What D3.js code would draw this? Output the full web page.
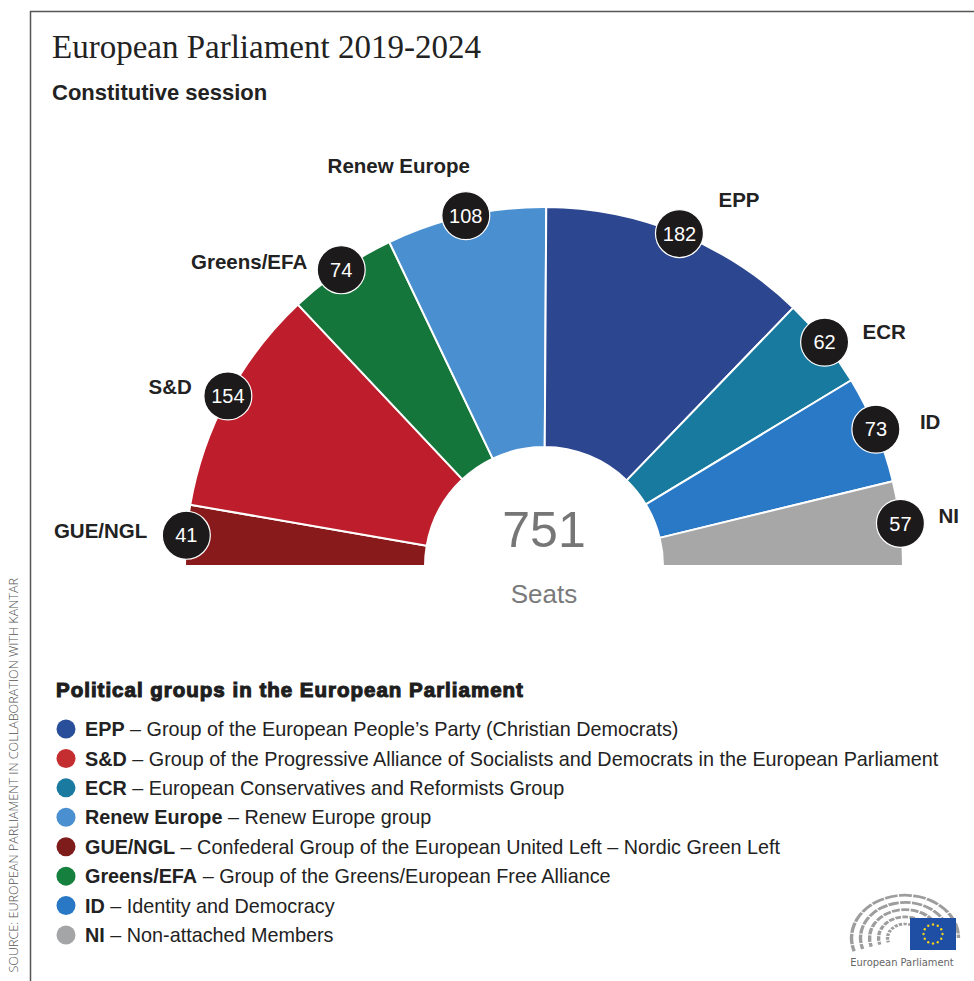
<!DOCTYPE html>
<html>
<head>
<meta charset="utf-8">
<script src="https://cdn.jsdelivr.net/npm/d3@7"></script>
<style>
  html, body { margin: 0; padding: 0; background: #fff; }
  svg { display: block; }
</style>
</head>
<body>
<svg id="chart" width="974" height="981"></svg>
<script>
// ---------- DATA ----------
const groups = ["GUE/NGL", "S&D", "Greens/EFA", "Renew Europe", "EPP", "ECR", "ID", "NI"];
const seats = [41, 154, 74, 108, 182, 62, 73, 57];
const arcColors = ["#891a1c", "#be1e2b", "#14763a", "#4a8fd0", "#2c4790", "#177a9e", "#2a79c6", "#a7a7a7"];
const totalSeats = 751;

const legendAbbr = ["EPP", "S&D", "ECR", "Renew Europe", "GUE/NGL", "Greens/EFA", "ID", "NI"];
const legendDesc = [
  "Group of the European People\u2019s Party (Christian Democrats)",
  "Group of the Progressive Alliance of Socialists and Democrats in the European Parliament",
  "European Conservatives and Reformists Group",
  "Renew Europe group",
  "Confederal Group of the European United Left \u2013 Nordic Green Left",
  "Group of the Greens/European Free Alliance",
  "Identity and Democracy",
  "Non-attached Members"
];
const legendColors = ["#2a4f9a", "#c52e30", "#1a7aa0", "#4a90d0", "#7e1c1c", "#16803e", "#2878c6", "#a3a5a7"];

// ---------- LAYOUT ----------
const svg = d3.select("#chart");
const cx = 544, cy = 566, R = 359, r0 = 119;
// label offsets relative to the seat-count bubble
const labelDx = [-39, -36, -34, -67, 39, 38, 44, 38];
const labelDy = [-5, -9, -8, -50, -34, -10, -8, -8];
const labelAnchor = ["end", "end", "end", "middle", "start", "start", "start", "start"];

// frame
svg.append("path")
  .attr("d", "M30.5,981 L30.5,11.5 L974,11.5")
  .attr("fill", "none").attr("stroke", "#555").attr("stroke-width", 1.5);

// source text (vertical)
svg.append("text")
  .attr("transform", "translate(18,578) rotate(-90)")
  .attr("text-anchor", "end")
  .attr("font-family", "'Open Sans', sans-serif")
  .attr("font-weight", 300)
  .attr("font-size", 12.6)
  .attr("fill", "#555")
  .text("SOURCE: EUROPEAN PARLIAMENT IN COLLABORATION WITH KANTAR");

// titles
svg.append("text")
  .attr("x", 52).attr("y", 58)
  .attr("font-family", "'Liberation Serif', 'DejaVu Serif', serif")
  .attr("font-size", 33)
  .attr("fill", "#222")
  .text("European Parliament 2019-2024");

svg.append("text")
  .attr("x", 52).attr("y", 100)
  .attr("font-family", "'Liberation Sans', Arial, sans-serif")
  .attr("font-weight", "bold")
  .attr("font-size", 22)
  .attr("fill", "#222")
  .text("Constitutive session");

// ---------- HEMICYCLE ----------
const data = groups.map((g, i) => ({ group: g, seats: seats[i], color: arcColors[i], i }));
const pie = d3.pie().value(d => d.seats).sort(null)
  .startAngle(-Math.PI / 2).endAngle(Math.PI / 2);
const arcs = pie(data);
const arcGen = d3.arc().innerRadius(r0).outerRadius(R);

const g = svg.append("g").attr("transform", `translate(${cx},${cy})`);
g.selectAll("path.seg").data(arcs).join("path")
  .attr("class", "seg")
  .attr("d", arcGen)
  .attr("fill", d => d.data.color)
  .attr("stroke", "#fff")
  .attr("stroke-width", 2)
  .attr("stroke-linejoin", "round");

// center text
g.append("text")
  .attr("x", 0).attr("y", -19)
  .attr("text-anchor", "middle")
  .attr("font-family", "'Liberation Sans', Arial, sans-serif")
  .attr("font-size", 50)
  .attr("fill", "#767676")
  .text(totalSeats);
g.append("text")
  .attr("x", 0).attr("y", 37)
  .attr("text-anchor", "middle")
  .attr("font-family", "'Liberation Sans', Arial, sans-serif")
  .attr("font-size", 26)
  .attr("fill", "#7a7a7a")
  .text("Seats");

// bubbles
const bub = g.selectAll("g.bub").data(arcs).join("g")
  .attr("class", "bub")
  .attr("transform", d => {
    const a = (d.startAngle + d.endAngle) / 2;
    return `translate(${R * Math.sin(a)},${-R * Math.cos(a)})`;
  });
bub.append("circle").attr("r", 24).attr("fill", "#1d1a1b")
  .attr("stroke", "#fff").attr("stroke-width", 1.2);
bub.append("text")
  .attr("text-anchor", "middle").attr("dy", "0.36em")
  .attr("font-family", "'Liberation Sans', Arial, sans-serif")
  .attr("font-size", 20).attr("fill", "#fff")
  .text(d => d.data.seats);
bub.append("text")
  .attr("x", d => labelDx[d.data.i]).attr("y", d => labelDy[d.data.i])
  .attr("dy", "0.36em")
  .attr("text-anchor", d => labelAnchor[d.data.i])
  .attr("font-family", "'Liberation Sans', Arial, sans-serif")
  .attr("font-weight", "bold")
  .attr("font-size", 20.5).attr("fill", "#222")
  .text(d => d.data.group);

// ---------- LEGEND ----------
svg.append("text")
  .attr("x", 56).attr("y", 697)
  .attr("font-family", "'Liberation Sans', Arial, sans-serif")
  .attr("font-weight", "bold")
  .attr("font-size", 20.5)
  .attr("fill", "#1e1e1e")
  .attr("stroke", "#1e1e1e").attr("stroke-width", 1.1)
  .attr("letter-spacing", 1.0)
  .text("Political groups in the European Parliament");

const ly = d3.scalePoint().domain(d3.range(legendAbbr.length)).range([729, 935]);
const leg = svg.selectAll("g.leg").data(legendAbbr).join("g")
  .attr("class", "leg")
  .attr("transform", (d, i) => `translate(0,${ly(i)})`);
leg.append("circle").attr("cx", 66).attr("cy", 0).attr("r", 9.5)
  .attr("fill", (d, i) => legendColors[i]);
const lt = leg.append("text").attr("x", 85).attr("dy", "0.36em")
  .attr("font-family", "'Liberation Sans', Arial, sans-serif")
  .attr("font-size", 19.8).attr("fill", "#222");
lt.append("tspan").attr("font-weight", "bold").text(d => d);
lt.append("tspan").text((d, i) => " \u2013 " + legendDesc[i]);

// ---------- LOGO ----------
const logo = svg.append("g").attr("transform", "translate(905,938)");
const logoR = [18, 27, 36, 45, 54];
const arcLayer = logo.append("g").attr("transform", "scale(1,0.8)");
logoR.forEach(rr => {
  arcLayer.append("path")
    .attr("d", d3.arc().innerRadius(rr - 2.2).outerRadius(rr + 1.2)
      .startAngle(-Math.PI * 0.6).endAngle(Math.PI * 0.5)())
    .attr("fill", "#9d9d9d");
});
// gaps in arcs (radial white lines)
d3.range(-0.55, 0.5, 0.085).forEach(t => {
  const a = t * Math.PI;
  arcLayer.append("line")
    .attr("x1", 14 * Math.sin(a)).attr("y1", -14 * Math.cos(a))
    .attr("x2", 60 * Math.sin(a)).attr("y2", -60 * Math.cos(a))
    .attr("stroke", "#fff").attr("stroke-width", 1.4);
});
logo.append("rect").attr("x", 5).attr("y", -20).attr("width", 46).attr("height", 32)
  .attr("fill", "#1f4ea5");
d3.range(12).forEach(k => {
  const a = k / 12 * 2 * Math.PI;
  logo.append("circle").attr("cx", 28 + 9.5 * Math.sin(a)).attr("cy", -4 - 9.5 * Math.cos(a))
    .attr("r", 1.2).attr("fill", "#f3d21c");
});
svg.append("text")
  .attr("x", 902).attr("y", 966)
  .attr("text-anchor", "middle")
  .attr("font-family", "'DejaVu Sans Condensed', 'Liberation Sans Narrow', sans-serif")
  .attr("font-size", 11)
  .attr("fill", "#666")
  .text("European Parliament");
</script>
</body>
</html>
